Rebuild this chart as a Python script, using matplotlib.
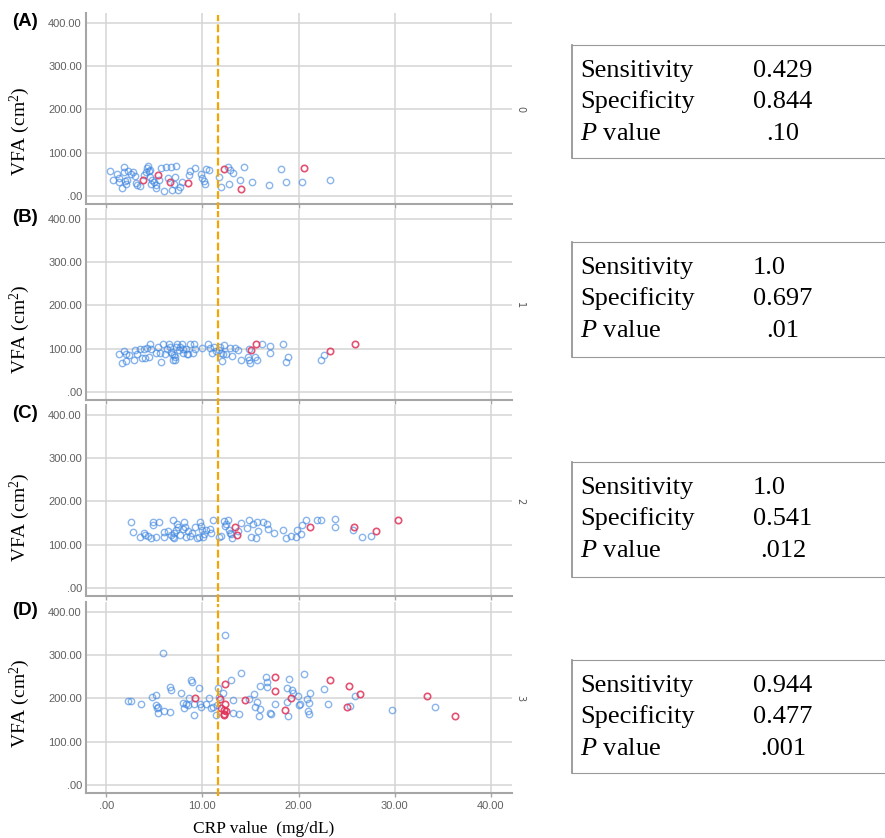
import matplotlib
matplotlib.use("Agg")
import matplotlib.pyplot as plt

plt.rcParams["mathtext.fontset"] = "custom"
plt.rcParams["mathtext.rm"] = "Liberation Serif"
plt.rcParams["mathtext.it"] = "Liberation Serif:italic"

# CRP cut-off drawn as dashed line
crp_cutoff = 11.6

# Panel A (group 0)
crp_A_blue = [0.35, 0.66, 1.1, 1.35, 1.3, 1.6, 1.8, 1.9, 2.0, 2.1, 2.2, 2.3, 2.6, 2.8, 3.0, 3.1,
              3.2, 3.5, 3.9, 4.1, 4.2, 4.3, 4.5, 4.6, 4.6, 4.7, 4.8, 5.0, 5.2, 5.2, 5.5, 5.7,
              6.0, 6.2, 6.4, 6.7, 6.8, 7.0, 7.2, 7.3, 7.5, 7.7, 7.9, 8.6, 8.7, 9.2, 9.9, 10.0,
              10.2, 10.3, 10.4, 10.7, 11.7, 11.9, 12.7, 12.9, 13.2, 12.8, 13.9, 14.3, 15.2,
              16.9, 18.2, 18.7, 20.4, 23.3]
vfa_A_blue = [58, 38, 51, 42, 32, 19, 68, 56, 35, 27, 37, 58, 50, 56, 46, 31,
              25, 23, 48, 56, 66, 70, 58, 60, 45, 29, 37, 33, 18, 25, 37, 64,
              13, 68, 41, 68, 14, 29, 45, 69, 14, 22, 33, 48, 58, 65, 50, 41,
              35, 29, 62, 60, 44, 22, 68, 60, 54, 28, 38, 68, 32,
              25, 63, 32, 33, 37]
crp_A_red = [3.8, 5.4, 6.6, 8.5, 12.2, 14.0, 20.6]
vfa_A_red = [37, 48, 33, 31, 62, 16, 65]

# Panel B (group 1)
crp_B_blue = [1.3, 1.6, 1.8, 2.1, 2.1, 2.4, 2.9, 3.0, 3.2, 3.5, 3.7, 3.9, 4.0, 4.2, 4.5, 4.6,
              4.7, 5.2, 5.4, 5.6, 5.7, 5.9, 6.1, 6.3, 6.5, 6.6, 6.7, 6.8, 6.9, 7.0, 7.2, 7.2,
              7.3, 7.4, 7.6, 7.7, 7.9, 8.0, 8.0, 8.3, 8.4, 8.5, 8.7, 9.0, 9.1, 9.2, 10.0,
              10.6, 10.8, 11.0, 11.2, 11.4, 11.7, 11.8, 11.9, 12.0, 12.1, 12.2, 12.5, 12.9,
              13.1, 13.4, 13.7, 14.0, 14.7, 14.8, 14.9, 15.0, 15.5, 15.7, 16.2, 17.0, 17.0,
              18.4, 18.7, 18.9, 22.3, 22.6]
vfa_B_blue = [88, 68, 96, 72, 88, 85, 75, 98, 88, 100, 79, 100, 79, 102, 81, 112,
              100, 91, 104, 90, 69, 112, 88, 99, 112, 104, 92, 88, 73, 85, 81, 75,
              104, 110, 98, 104, 110, 90, 99, 99, 87, 87, 110, 90, 110, 100, 102,
              110, 102, 90, 105, 95, 98, 105, 90, 71, 87, 108, 87, 102,
              83, 102, 98, 73, 82, 100, 75, 68, 82, 75, 112, 106, 91,
              110, 70, 81, 73, 86]
crp_B_red = [15.1, 15.6, 23.3, 25.9]
vfa_B_red = [98, 112, 96, 112]

# Panel C (group 2)
crp_C_blue = [2.6, 2.8, 3.5, 3.9, 4.0, 4.3, 4.7, 4.9, 4.9, 5.2, 5.5, 6.0, 6.0, 6.4, 6.7, 6.9,
              6.9, 7.0, 7.1, 7.3, 7.4, 7.5, 7.7, 8.0, 8.1, 8.2, 8.3, 8.5, 8.7, 8.9, 9.2, 9.4,
              9.6, 9.8, 9.9, 10.0, 10.1, 10.2, 10.4, 10.8, 10.9, 11.1, 11.7, 11.9, 12.2,
              12.4, 12.5, 12.7, 12.8, 12.9, 13.0, 13.1, 13.7, 14.0, 14.6, 14.9, 15.1, 15.3,
              15.6, 15.7, 15.8, 16.3, 16.7, 16.8, 17.4, 18.4, 18.7, 19.2, 19.7, 19.8, 20.3,
              20.4, 20.8, 21.9, 22.3, 23.8, 23.8, 25.7, 26.6, 27.5]
vfa_C_blue = [152, 129, 117, 127, 123, 121, 115, 152, 145, 117, 152, 129, 117, 132, 122, 158,
              119, 115, 128, 135, 148, 142, 123, 137, 152, 142, 118, 131, 121, 127, 142, 115,
              119, 152, 144, 135, 119, 125, 135, 136, 127, 156, 118, 121, 154,
              144, 148, 158, 135, 128, 125, 115, 132, 150, 138, 158, 117, 148,
              115, 152, 132, 152, 148, 137, 127, 135, 115, 121, 118, 135, 125,
              145, 156, 156, 156, 159, 142, 135, 118, 121]
crp_C_red = [13.4, 13.6, 21.2, 25.8, 28.1, 30.3]
vfa_C_red = [142, 123, 140, 141, 132, 158]

# Panel D (group 3)
crp_D_blue = [2.3, 2.6, 3.6, 4.8, 5.2, 5.2, 5.3, 5.4, 5.4, 5.9, 6.0, 6.6, 6.6, 6.7, 7.8, 8.0,
              8.1, 8.3, 8.5, 8.6, 8.8, 8.9, 9.1, 9.1, 9.6, 9.8, 9.9, 10.4, 10.7, 10.9, 11.1,
              11.4, 11.5, 11.6, 11.7, 12.1, 12.4, 13.0, 13.2, 13.2, 13.8, 14.0, 14.8, 15.4,
              15.5, 15.7, 15.9, 16.0, 16.0, 16.6, 16.7, 16.7, 17.0, 17.1, 17.6, 18.8, 18.8,
              18.9, 19.0, 19.3, 19.4, 19.9, 20.1, 20.2, 20.6, 20.9, 21.0, 21.1, 21.1, 21.2,
              22.6, 23.1, 25.4, 25.9, 29.7, 34.2]
vfa_D_blue = [195, 195, 188, 204, 185, 208, 177, 167, 181, 304, 171, 227, 169, 219, 213, 190,
              177, 186, 185, 202, 242, 238, 186, 162, 223, 186, 181, 188, 202, 177, 179,
              162, 185, 223, 204, 212, 345, 242, 196, 167, 164, 259, 198, 209,
              181, 192, 160, 228, 175, 250, 227, 238, 167, 164, 188, 223, 192,
              160, 245, 219, 213, 205, 185, 187, 255, 198, 172, 190, 164, 213,
              222, 186, 183, 205, 173, 179]
crp_D_red = [9.2, 11.8, 11.9, 12.2, 12.3, 12.3, 12.4, 12.4, 12.5, 14.4, 17.6, 17.6, 18.6,
             19.2, 23.3, 25.0, 25.3, 26.4, 33.4, 36.3]
vfa_D_red = [202, 198, 177, 173, 165, 162, 233, 188, 172, 196, 218, 250, 173,
             202, 242, 181, 228, 210, 205, 160]

panel_labels = ["(A)", "(B)", "(C)", "(D)"]
group_labels = ["0", "1", "2", "3"]
sensitivity = ["0.429", "1.0", "1.0", "0.944"]
specificity = ["0.844", "0.697", "0.541", "0.477"]
p_values = [".10", ".01", ".012", ".001"]

x_ticks = [0, 10, 20, 30, 40]
x_ticklabels = [".00", "10.00", "20.00", "30.00", "40.00"]
y_ticks = [0, 100, 200, 300, 400]
y_ticklabels = [".00", "100.00", "200.00", "300.00", "400.00"]

blue_x = [crp_A_blue, crp_B_blue, crp_C_blue, crp_D_blue]
blue_y = [vfa_A_blue, vfa_B_blue, vfa_C_blue, vfa_D_blue]
red_x = [crp_A_red, crp_B_red, crp_C_red, crp_D_red]
red_y = [vfa_A_red, vfa_B_red, vfa_C_red, vfa_D_red]

W, H = 885, 838
fig = plt.figure(figsize=(W / 100, H / 100), dpi=100)

# layout in pixels (top, bottom) for the scatter panels and the text boxes
panel_rows = [(13, 204), (209, 400), (405, 596), (602, 793)]
box_rows = [(45, 158), (242, 357), (462, 577), (660, 773)]
ylabel_pos = [0.38, 0.37, 0.41, 0.47]
ax_left, ax_right = 86, 512
box_left = 572

grid_c = "#d4d4d4"
spine_c = "#a6a6a6"
tick_c = "#606060"

for i in range(4):
    top, bot = panel_rows[i]
    ax = fig.add_axes([ax_left / W, 1 - bot / H, (ax_right - ax_left) / W, (bot - top) / H])
    ax.set_xlim(-2.1, 42.2)
    ax.set_ylim(-18, 422)
    ax.set_axisbelow(True)
    ax.grid(True, color=grid_c, linewidth=1.1)
    for s in ["top", "right"]:
        ax.spines[s].set_visible(False)
    for s in ["left", "bottom"]:
        ax.spines[s].set_color(spine_c)
        ax.spines[s].set_linewidth(1.5)
    ax.set_xticks(x_ticks)
    ax.set_yticks(y_ticks)
    ax.set_yticklabels(y_ticklabels, fontsize=8, color=tick_c, family="Liberation Sans")
    ax.tick_params(axis="y", length=0, pad=3)
    ax.tick_params(axis="x", length=3, color=spine_c, width=1, pad=3)
    if i == 3:
        ax.set_xticklabels(x_ticklabels, fontsize=8, color=tick_c, family="Liberation Sans")
        ax.set_xlabel("CRP value  (mg/dL)", fontsize=12.5, family="Liberation Serif")
        ax.xaxis.set_label_coords(0.418, -0.145)
    else:
        ax.set_xticklabels([])

    ax.plot(blue_x[i], blue_y[i], linestyle="none", marker="o", markersize=4.6,
            markerfacecolor="none", markeredgecolor="#3d85e0", markeredgewidth=1.0, alpha=0.6)
    ax.plot(red_x[i], red_y[i], linestyle="none", marker="o", markersize=4.6,
            markerfacecolor="none", markeredgecolor="#e0335a", markeredgewidth=1.2, alpha=0.85)

    ax.axvline(crp_cutoff, ymin=-0.03 if i < 3 else -0.015, ymax=0.99, color="#f5a500",
               linewidth=1.6, linestyle=(0, (3.5, 1.5)), clip_on=False, zorder=5)

    ax.set_ylabel("VFA (cm$^{2}$)", fontsize=14, family="Liberation Serif")
    ax.yaxis.set_label_coords(-0.127, ylabel_pos[i])
    ax.text(-0.174, 1.0, panel_labels[i], transform=ax.transAxes, ha="left", va="top",
            fontsize=13.5, fontweight="bold", family="Liberation Sans")
    ax.text(1.019, 200, group_labels[i], transform=ax.get_yaxis_transform(), rotation=270,
            ha="center", va="center", fontsize=7, color="#555555")

    # statistics box
    btop, bbot = box_rows[i]
    bx = fig.add_axes([box_left / W, 1 - bbot / H, (W - box_left) / W, (bbot - btop) / H])
    bx.set_xticks([])
    bx.set_yticks([])
    bx.patch.set_alpha(0)
    bx.spines["right"].set_visible(False)
    bx.spines["left"].set_color("#8c8c8c")
    bx.spines["left"].set_linewidth(1.2)
    for s in ["top", "bottom"]:
        bx.spines[s].set_color("#9a9a9a")
        bx.spines[s].set_linewidth(0.8)
        bx.spines[s].set_linestyle((0, (1, 1)))
    h = bbot - btop
    rows_y = [1 - 32 / h, 1 - 63 / h, 1 - 95 / h]
    fs = 19
    serif = "Liberation Serif"
    bx.text(0.026, rows_y[0], "Sensitivity", fontsize=fs, family=serif, va="baseline")
    bx.text(0.026, rows_y[1], "Specificity", fontsize=fs, family=serif, va="baseline")
    bx.text(0.026, rows_y[2], r"$\mathit{P}$ value", fontsize=fs, family=serif, va="baseline")
    bx.text(0.578, rows_y[0], sensitivity[i], fontsize=fs, family=serif, va="baseline")
    bx.text(0.578, rows_y[1], specificity[i], fontsize=fs, family=serif, va="baseline")
    bx.text(0.674, rows_y[2], p_values[i], fontsize=fs, family=serif, va="baseline",
            ha="center")

fig.savefig("out.png", dpi=100)
